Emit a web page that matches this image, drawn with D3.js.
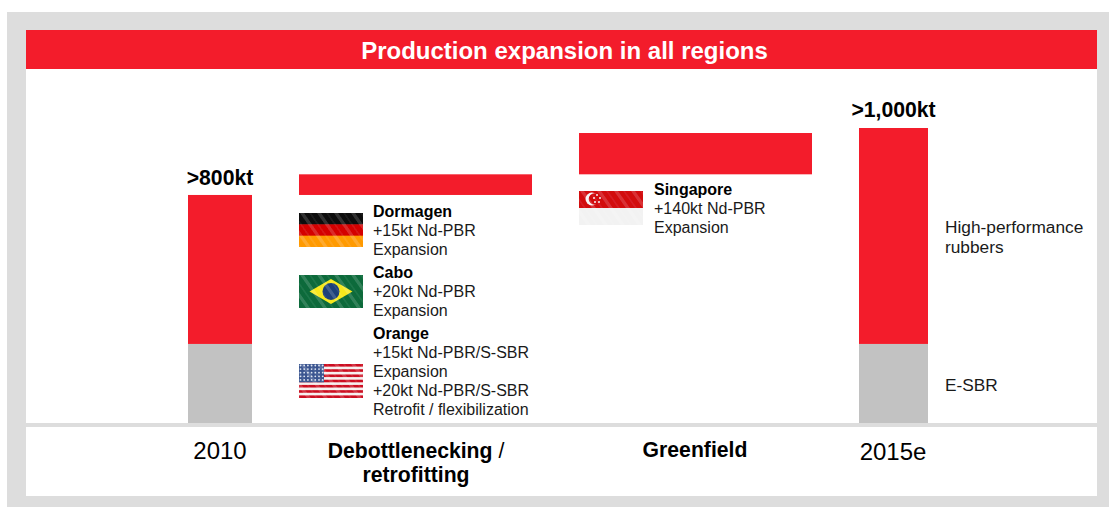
<!DOCTYPE html>
<html><head><meta charset="utf-8">
<script src="https://cdn.jsdelivr.net/npm/d3@7"></script>
<style>html,body{margin:0;padding:0;background:#fff}svg{display:block}text{font-family:"Liberation Sans",Arial,sans-serif}</style>
</head><body><div id="chart"></div>
<script>
const categories = ["2010","Debottlenecking","Greenfield","2015e"];
const eSbr = [268,0,0,268];
const highPerf = [505,70,140,732];
const floatBase = [0,773,843,0];
const totals = [">800kt","","",">1,000kt"];
const seriesLabels = ["High-performance rubbers","E-SBR"];
const RED="#f31c2b", GREY="#c2c2c2", FRAME="#dddddd";

const W=1109,H=507;
const svg=d3.select("#chart").append("svg").attr("width",W).attr("height",H);
const defs=svg.append("defs");
const y=d3.scaleLinear().domain([0,1000]).range([423,128]);
const xLeft=d3.scaleOrdinal().domain(categories).range([188,299,579,859]);
const xWidth=d3.scaleOrdinal().domain(categories).range([64,233,233,69]);
const totalGap=d3.scaleOrdinal().domain(categories).range([9.5,0,0,11]);

// frame
svg.append("rect").attr("x",7).attr("y",12).attr("width",W-7).attr("height",H-12).attr("fill",FRAME);
svg.append("rect").attr("x",26).attr("y",30).attr("width",1071).attr("height",466).attr("fill","#fff");
svg.append("rect").attr("x",26).attr("y",423).attr("width",1071).attr("height",4).attr("fill",FRAME);
svg.append("rect").attr("x",26).attr("y",30).attr("width",1071).attr("height",39).attr("fill",RED);
svg.append("text").attr("x",564.5).attr("y",58.5).attr("text-anchor","middle").attr("fill","#fff")
  .attr("font-size",24).attr("font-weight","bold").text("Production expansion in all regions");

// bars
svg.append("g").selectAll("rect").data(categories).join("rect")
  .attr("x",d=>xLeft(d)).attr("width",d=>xWidth(d))
  .attr("y",(d,i)=>y(eSbr[i]))
  .attr("height",(d,i)=>y(0)-y(eSbr[i])).attr("fill",GREY);
svg.append("g").selectAll("rect").data(categories).join("rect")
  .attr("x",d=>xLeft(d)).attr("width",d=>xWidth(d))
  .attr("y",(d,i)=>y(floatBase[i]+eSbr[i]+highPerf[i]))
  .attr("height",(d,i)=>y(floatBase[i]+eSbr[i])-y(floatBase[i]+eSbr[i]+highPerf[i])).attr("fill",RED);

// totals
svg.append("g").selectAll("text").data(categories.filter(d=>totals[categories.indexOf(d)])).join("text")
  .attr("x",d=>xLeft(d)+xWidth(d)/2)
  .attr("y",d=>{const i=categories.indexOf(d);return y(eSbr[i]+highPerf[i])-totalGap(d);})
  .attr("text-anchor","middle").attr("font-size",21.2).attr("font-weight","bold").attr("fill","#000")
  .text(d=>totals[categories.indexOf(d)]);

// category labels
function label(x,yy,parts,anchor="middle",size=21){
  const t=svg.append("text").attr("x",x).attr("y",yy).attr("text-anchor",anchor).attr("font-size",size).attr("fill","#000");
  parts.forEach(p=>t.append("tspan").attr("font-weight",p[1]?"bold":"normal").text(p[0]));
}
label(220,458.5,[["2010",0]],"middle",24);
label(893,459.5,[["2015e",0]],"middle",24);
label(416,457.5,[["Debottlenecking",1],[" /",0]],"middle",21.2);
label(416,481.5,[["retrofitting",1]],"middle",21.2);
label(695,456.5,[["Greenfield",1]],"middle",21.2);

// series labels
const sl=svg.append("g").attr("font-size",17.3).attr("fill","#1a1a1a");
sl.append("text").attr("x",945).attr("y",233).text("High-performance");
sl.append("text").attr("x",945).attr("y",253).text("rubbers");
sl.append("text").attr("x",945).attr("y",391).text("E-SBR");

// site notes
const notes=[
 {x:373,y:217,lines:[["Dormagen",1],["+15kt Nd-PBR",0],["Expansion",0]]},
 {x:373,y:278,lines:[["Cabo",1],["+20kt Nd-PBR",0],["Expansion",0]]},
 {x:373,y:339,lines:[["Orange",1],["+15kt Nd-PBR/S-SBR",0],["Expansion",0],["+20kt Nd-PBR/S-SBR",0],["Retrofit / flexibilization",0]]},
 {x:654,y:195,lines:[["Singapore",1],["+140kt Nd-PBR",0],["Expansion",0]]}
];
notes.forEach(n=>n.lines.forEach((l,i)=>{
  svg.append("text").attr("x",n.x).attr("y",n.y+i*19).attr("font-size",16)
    .attr("font-weight",l[1]?"bold":"normal").attr("fill",l[1]?"#000":"#1a1a1a").text(l[0]);
}));

// flags
const blur=defs.append("filter").attr("id","soft").attr("x",0).attr("y",0).attr("width",1).attr("height",1);
blur.append("feGaussianBlur").attr("stdDeviation",.75);
const sheen=defs.append("pattern").attr("id","sheen").attr("patternUnits","userSpaceOnUse")
  .attr("width",17).attr("height",34).attr("patternTransform","skewX(35)");
sheen.append("rect").attr("x",1).attr("width",4).attr("height",34).attr("fill","#fff").attr("opacity",.16);
sheen.append("rect").attr("x",10).attr("width",2).attr("height",34).attr("fill","#fff").attr("opacity",.08);
function flag(x,yy,h,draw){
  const clip="c"+x+"_"+yy;
  defs.append("clipPath").attr("id",clip).append("rect").attr("width",64).attr("height",h);
  const o=svg.append("g").attr("transform",`translate(${x},${yy})`).attr("clip-path",`url(#${clip})`);
  const g=o.append("g").attr("filter","url(#soft)");
  draw(g,64,h);
  g.append("rect").attr("width",64).attr("height",h).attr("fill","url(#sheen)");
}
flag(299,213,34,(g,w,h)=>{
  ["#0c0c0c","#d40000","#ff9a05"].forEach((c,i)=>g.append("rect").attr("y",i*h/3).attr("width",w).attr("height",h/3+.5).attr("fill",c));
});
flag(299,275,33,(g,w,h)=>{
  g.append("rect").attr("width",w).attr("height",h).attr("fill","#0b6a3a");
  g.append("path").attr("d",`M${w/2-21.5},${h/2}L${w/2},${h/2-12.5}L${w/2+21.5},${h/2}L${w/2},${h/2+12.5}Z`).attr("fill","#f7e81c");
  g.append("circle").attr("cx",w/2).attr("cy",h/2).attr("r",8.5).attr("fill","#1b4079");
});
flag(299,364,34,(g,w,h)=>{
  g.append("rect").attr("width",w).attr("height",h).attr("fill","#f6efef");
  d3.range(7).forEach(i=>g.append("rect").attr("y",i*2*h/13).attr("width",w).attr("height",h/13).attr("fill","#cc1020"));
  g.append("rect").attr("width",25).attr("height",h*7/13).attr("fill","#3a5590");
  d3.range(5).forEach(r=>d3.range(7).forEach(c=>g.append("circle").attr("cx",1.5+c*3.7).attr("cy",1.5+r*3.6).attr("r",.9).attr("fill","#dfe6f2")));
});
flag(579,191,34,(g,w,h)=>{
  g.append("rect").attr("width",w).attr("height",h).attr("fill","#f2f2f2");
  g.append("rect").attr("width",w).attr("height",h/2).attr("fill","#d20a10");
  g.append("circle").attr("cx",13).attr("cy",8).attr("r",6.5).attr("fill","#f5f5f5");
  g.append("circle").attr("cx",15.5).attr("cy",8).attr("r",5.8).attr("fill","#d20a10");
  [[18,4],[21,7],[20,11],[16,11],[15,7]].forEach(p=>g.append("circle").attr("cx",p[0]).attr("cy",p[1]).attr("r",1).attr("fill","#f5f5f5"));
});
</script></body></html>
